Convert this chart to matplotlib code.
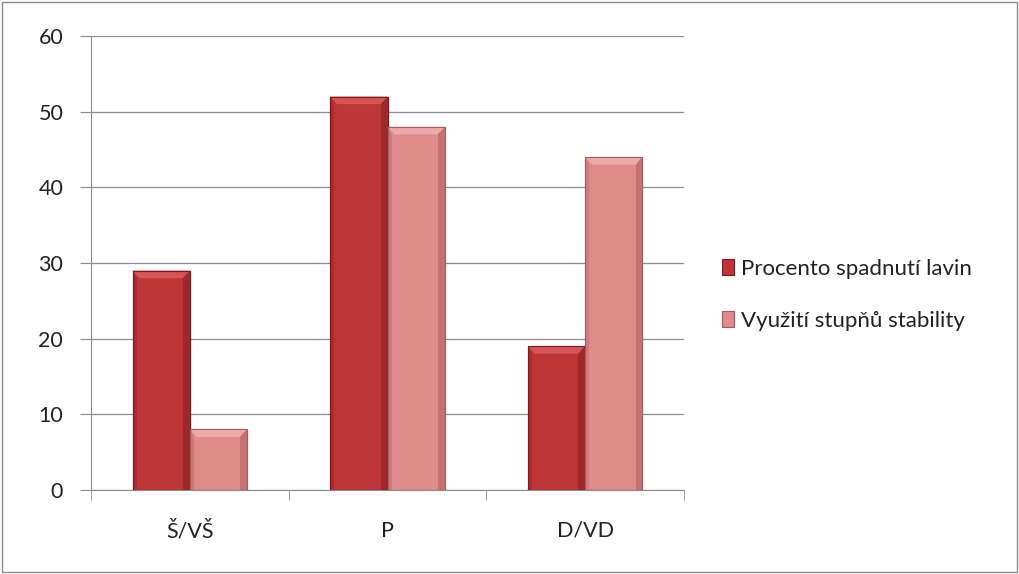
import numpy as np
import matplotlib
matplotlib.use("Agg")
import matplotlib.pyplot as plt
from matplotlib.patches import Rectangle, Polygon

plt.rcParams["font.family"] = ["Lato", "DejaVu Sans"]

categories = ["Š/VŠ", "P", "D/VD"]
avalanche_pct = [29, 52, 19]
stability_use = [8, 48, 44]
series_names = ["Procento spadnutí lavin", "Využití stupňů stability"]

# face, top bevel, side bevel, edge
dark_red = ["#bd3536", "#d65556", "#9e2729", "#7a1c1e"]
pink = ["#df8b8c", "#eeaaab", "#c57172", "#a85c5e"]

fig = plt.figure(figsize=(10.19, 5.74), dpi=100)
ax = fig.add_axes([91 / 1019, 84 / 574, 593 / 1019, 454 / 574])

x = np.arange(len(categories))
w = 0.29
b1 = ax.bar(x - w / 2, avalanche_pct, w, color=dark_red[0], edgecolor=dark_red[3],
            linewidth=0.8, label=series_names[0], zorder=3)
b2 = ax.bar(x + w / 2, stability_use, w, color=pink[0], edgecolor=pink[3],
            linewidth=0.8, label=series_names[1], zorder=3)

# bevel look: lighter top strip, darker sides
bx, by = 0.035, 1.0
for bars, cols in ((b1, dark_red), (b2, pink)):
    for r in bars:
        x0, x1 = r.get_x(), r.get_x() + r.get_width()
        y1 = r.get_height()
        ax.add_patch(Polygon([(x0, y1), (x1, y1), (x1 - bx, y1 - by), (x0 + bx, y1 - by)],
                             facecolor=cols[1], edgecolor="none", zorder=4))
        ax.add_patch(Polygon([(x1, y1), (x1, 0), (x1 - bx, 0), (x1 - bx, y1 - by)],
                             facecolor=cols[2], edgecolor="none", zorder=4))
        ax.add_patch(Polygon([(x0, y1), (x0, 0), (x0 + bx * 0.6, 0), (x0 + bx * 0.6, y1 - by)],
                             facecolor=cols[2], edgecolor="none", alpha=0.6, zorder=4))
        ax.add_patch(Rectangle((x0, 0), x1 - x0, y1, facecolor="none",
                               edgecolor=cols[3], linewidth=0.8, zorder=5))

ax.set_xlim(-0.5, 2.5)
ax.set_ylim(0, 60)
ax.set_yticks(range(0, 61, 10))
ax.grid(axis="y", color="#8c8c8c", linewidth=0.9, zorder=0)
ax.set_xticks(x)
ax.set_xticklabels(categories)
ax.set_xticks([-0.5, 0.5, 1.5, 2.5], minor=True)
ax.tick_params(axis="x", which="major", length=0, pad=22, labelsize=15.5, labelcolor="#222222")
ax.tick_params(axis="x", which="minor", length=7, color="#8c8c8c")
ax.tick_params(axis="y", length=8, color="#8c8c8c", labelsize=15.5, pad=12, labelcolor="#222222")
for s in ["top", "right"]:
    ax.spines[s].set_visible(False)
ax.spines["left"].set_color("#8c8c8c")
ax.spines["bottom"].set_color("#8c8c8c")

ax.legend(loc="center left", bbox_to_anchor=(1.03, 0.43), frameon=False,
          fontsize=16, handlelength=0.55, handleheight=0.7, labelspacing=1.45,
          handletextpad=0.3, labelcolor="#222222")

fig.add_artist(Rectangle((0.002, 0.003), 0.996, 0.994, transform=fig.transFigure,
                         fill=False, edgecolor="#8c8c8c", linewidth=1))

fig.savefig("out.png", dpi=100)
